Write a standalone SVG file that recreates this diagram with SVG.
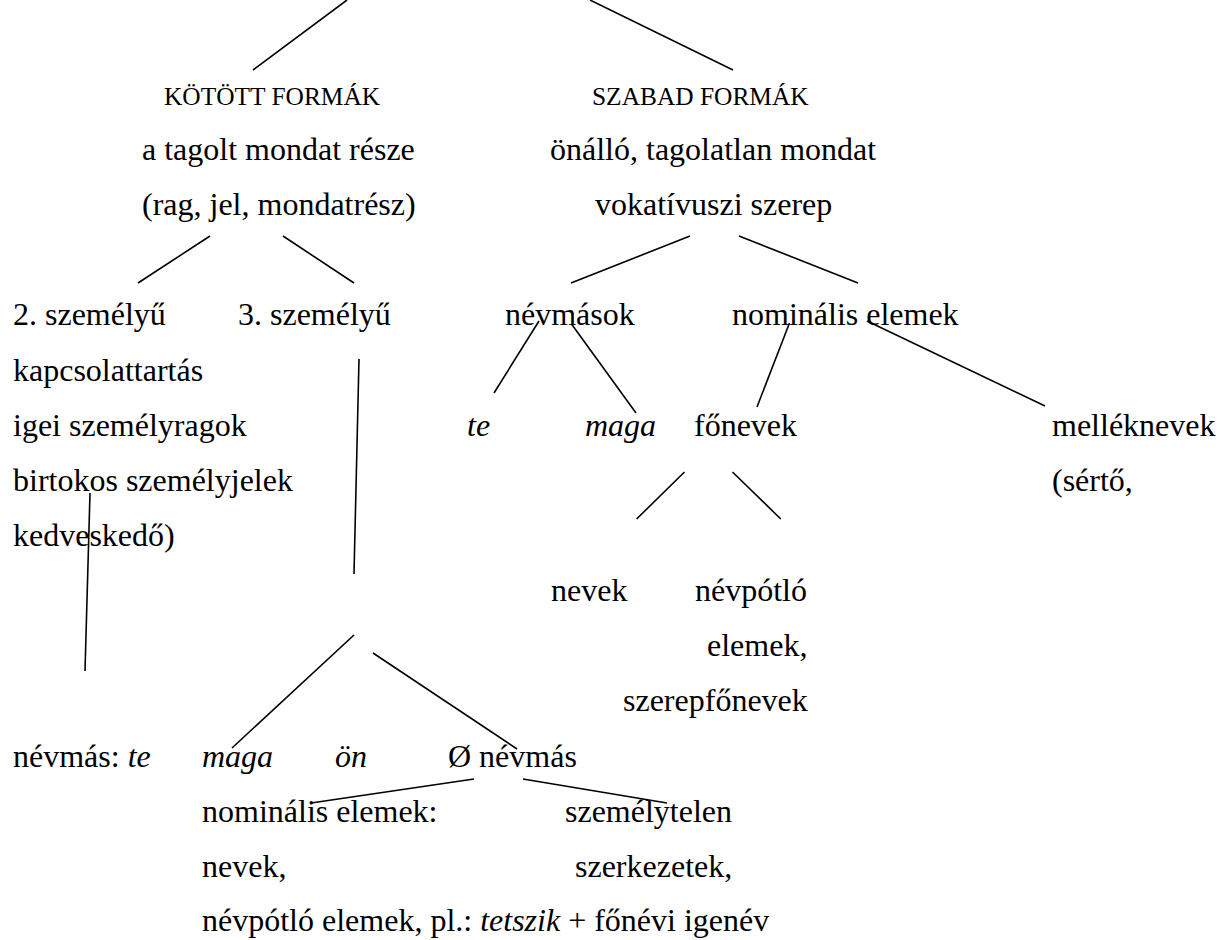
<svg xmlns="http://www.w3.org/2000/svg" width="1226" height="940" viewBox="0 0 1226 940">
<style>
text{font-family:'Liberation Serif','Tinos','Times New Roman','DejaVu Serif',serif;font-size:32px;fill:#000}
.cap{font-size:25.4px}
.i{font-style:italic}
#connectors line{stroke:#000;stroke-width:1.6;stroke-linecap:butt}
</style>
<rect width="1226" height="940" fill="#fff"/>
<g id="connectors">
<line x1="347" y1="0" x2="253" y2="70"/>
<line x1="590" y1="0" x2="733" y2="70"/>
<line x1="210" y1="236" x2="138" y2="283"/>
<line x1="283" y1="236" x2="354" y2="283"/>
<line x1="690" y1="236" x2="571" y2="283"/>
<line x1="739" y1="236" x2="858" y2="283"/>
<line x1="539" y1="321" x2="494" y2="393"/>
<line x1="571.5" y1="324" x2="636" y2="413"/>
<line x1="789.5" y1="323" x2="757" y2="407"/>
<line x1="867" y1="321" x2="1045" y2="406"/>
<line x1="684.5" y1="472" x2="636.6" y2="519"/>
<line x1="732.5" y1="472" x2="780.8" y2="519"/>
<line x1="359" y1="359" x2="354" y2="574"/>
<line x1="90" y1="493" x2="85" y2="671"/>
<line x1="354" y1="635" x2="232" y2="748"/>
<line x1="373" y1="653" x2="517" y2="749"/>
<line x1="474" y1="779" x2="311" y2="803"/>
<line x1="523" y1="779" x2="667" y2="803"/>
</g>
<g font-family="'Liberation Serif', 'Times New Roman', serif">
<g id="kotott">
<text class="cap" x="164" y="105">KÖTÖTT FORMÁK</text>
<text x="142" y="160">a tagolt mondat része</text>
<text x="142" y="215">(rag, jel, mondatrész)</text>
</g>
<g id="szabad">
<text class="cap" x="592" y="105">SZABAD FORMÁK</text>
<text x="550" y="160">önálló, tagolatlan mondat</text>
<text x="595" y="215">vokatívuszi szerep</text>
</g>
<g id="szemelyu2">
<text x="13" y="325">2. személyű</text>
<text x="13" y="381">kapcsolattartás</text>
<text x="13" y="436">igei személyragok</text>
<text x="13" y="491">birtokos személyjelek</text>
<text x="13" y="546">kedveskedő)</text>
</g>
<g id="szemelyu3">
<text x="238" y="325">3. személyű</text>
</g>
<g id="nevmasok">
<text x="505" y="325">névmások</text>
</g>
<g id="nominalis">
<text x="732" y="325">nominális elemek</text>
</g>
<g id="te">
<text class="i" x="467" y="436">te</text>
</g>
<g id="maga">
<text class="i" x="585" y="436">maga</text>
</g>
<g id="fonevek">
<text x="694" y="436">főnevek</text>
</g>
<g id="melleknevek">
<text x="1052" y="436">melléknevek</text>
<text x="1052" y="491">(sértő,</text>
</g>
<g id="nevek">
<text x="551" y="601">nevek</text>
</g>
<g id="nevpotlo">
<text x="695" y="601">névpótló</text>
<text x="707" y="656">elemek,</text>
<text x="623" y="711">szerepfőnevek</text>
</g>
<g id="nevmas-te">
<text x="13" y="767">névmás: <tspan class="i">te</tspan></text>
</g>
<g id="maga2">
<text class="i" x="202" y="767">maga</text>
</g>
<g id="on">
<text class="i" x="335" y="767">ön</text>
</g>
<g id="zero-nevmas">
<text x="448" y="767">Ø névmás</text>
</g>
<g id="nominalis2">
<text x="202" y="822">nominális elemek:</text>
<text x="202" y="877">nevek,</text>
<text x="202" y="931">névpótló elemek, pl.: <tspan class="i">tetszik</tspan> + főnévi igenév</text>
</g>
<g id="szemelytelen">
<text x="565" y="822">személytelen</text>
<text x="575" y="877">szerkezetek,</text>
</g>
</g>
</svg>
